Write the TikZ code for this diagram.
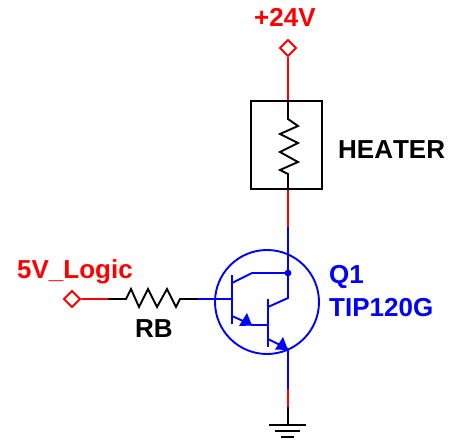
\documentclass[tikz,border=0pt]{standalone}
\usepackage{fontspec}
\setmainfont[Kerning=Off]{Liberation Sans}
\definecolor{netred}{RGB}{255,0,0}
\definecolor{partblue}{RGB}{0,0,255}
\tikzset{
 wire/.style={line width=1.9pt,line join=miter},
 redw/.style={wire,draw=netred},
 bluew/.style={wire,draw=partblue},
 blackw/.style={wire,draw=black},
 port/.style={draw=netred,line width=1.8pt,fill=white,shape=rectangle,rotate=45,minimum size=11.3pt,inner sep=0pt},
 lab/.style={font=\fontsize{26}{26}\selectfont\bfseries,inner sep=0pt,anchor=base west},
}
\begin{document}
\begin{tikzpicture}[x=1pt,y=-1pt]
\useasboundingbox (0,0) rectangle (465,440);
% nodes
\node[port] (vcc) at (288,48) {};
\node[port] (logic) at (72,299) {};
\coordinate (boxtop) at (288,101);
\coordinate (boxbot) at (288,189);
\coordinate (coltop) at (288,227);
\coordinate (coldot) at (288,273);
\coordinate (bluebot) at (288,389);
\coordinate (redbot) at (288,407);
\coordinate (gnd) at (288,425);
\coordinate (rbA) at (108,299);
\coordinate (rbB) at (198,299);
\coordinate (base) at (232,299);
% wires
\draw[redw] (vcc) -- (boxtop);
\draw[redw] (boxbot) -- (coltop);
\draw[redw] (logic) -- (rbA);
\draw[redw] (bluebot) -- (redbot);
% heater
\draw[blackw] (251,101) rectangle (322,189);
\draw[blackw] (boxtop) -- (288,119) -- (298,126) -- (280,134) -- (298,143) -- (280,152) -- (298,162) -- (280,170) -- (288,174) -- (boxbot);
% RB
\draw[blackw] (rbA) -- (126,299) -- (131,289) -- (139,307) -- (148,289) -- (157,307) -- (167,289) -- (176,307) -- (180,299) -- (rbB);
% ground
\draw[blackw] (redbot) -- (gnd);
\draw[blackw] (269,425) -- (306,425);
\draw[blackw] (275,431) -- (300,431);
\draw[blackw] (281,437) -- (294,437);
% transistor
\draw[bluew] (267,302) circle (52);
\draw[bluew] (rbB) -- (base);
\draw[bluew] (232,275) -- (232,324);
\draw[bluew] (232,283) -- (252,273) -- (coldot);
\draw[bluew] (coltop) -- (coldot) -- (288,298) -- (268,307);
\fill[partblue] (coldot) circle (3.4);
\draw[bluew] (268,299) -- (268,347);
\draw[bluew] (232,316) -- (252,325) -- (268,325);
\draw[bluew] (268,339) -- (288,349) -- (bluebot);
\fill[partblue] (252,325.5) -- (239,326) -- (247,313) -- cycle;
\fill[partblue] (288,350) -- (275,349.5) -- (283,337) -- cycle;
% labels
\node[lab,text=netred] (l24) at (254,26) {+24V};
\node[lab] (heat) at (338,158) {HEATER};
\node[lab,text=netred] (l5v) at (17,278) {5V\_Logic};
\node[lab] (rb) at (135,337) {RB};
\node[lab,text=partblue] (q1) at (329,283) {Q1};
\node[lab,text=partblue] (tip) at (329,316) {TIP120G};
\end{tikzpicture}
\end{document}
